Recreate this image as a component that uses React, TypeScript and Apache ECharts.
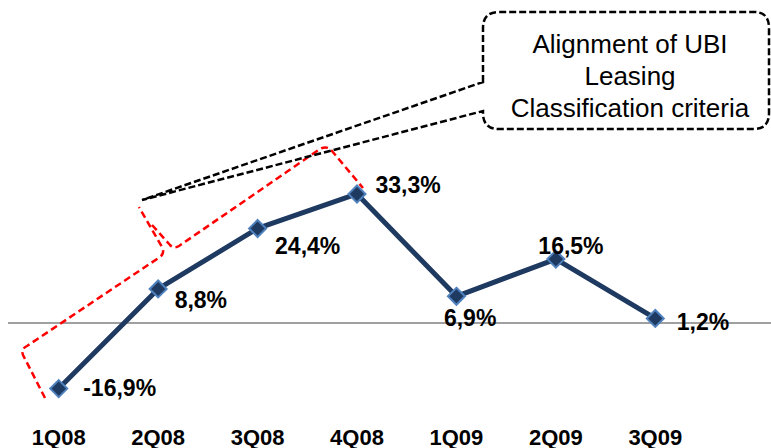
import React, { useEffect, useRef } from "react";
import * as echarts from "echarts";

const categories = ["1Q08", "2Q08", "3Q08", "4Q08", "1Q09", "2Q09", "3Q09"];
const values = [-16.9, 8.8, 24.4, 33.3, 6.9, 16.5, 1.2];
const calloutLines = ["Alignment of UBI", "Leasing", "Classification criteria"];

const FONT = "'Liberation Sans', Arial, Helvetica, sans-serif";

const CALLOUT_D =
  "M483 82 L483 28 Q483 12 499 12 L754 12 Q769 12 769 28 L769 113 Q769 129 754 129 L499 129 Q483 129 483 113 L483 111 L142 200 Z";
const RED_A_D = "M45 398 L23 355 Q21 349 27 346 L160 257 Q165 253 162 247 L139 207";
const RED_B_D = "M152 225 L170 245 Q174 249 179 246 L320 149 Q327 145 332 151 L363 188";

let registered = false;
function registerShapes() {
  if (registered) return;
  registered = true;
  echarts.graphic.registerShape("calloutShape", echarts.graphic.extendPath(CALLOUT_D, {}) as any);
  echarts.graphic.registerShape("redA", echarts.graphic.extendPath(RED_A_D, {}) as any);
  echarts.graphic.registerShape("redB", echarts.graphic.extendPath(RED_B_D, {}) as any);
}

export default function App() {
  const ref = useRef<HTMLDivElement>(null);

  useEffect(() => {
    if (!ref.current) return;
    registerShapes();
    const chart = echarts.init(ref.current, undefined, { renderer: "svg" });

    const labelOffsets = [
      [15, -1],
      [7, 11],
      [8, 18],
      [9, -9],
      [-22, 22],
      [-27, -13],
      [12, 4],
    ];

    chart.setOption({
      animation: false,
      grid: { left: 9, right: 66, top: 168, bottom: 28, containLabel: false },
      xAxis: {
        type: "category",
        data: categories,
        boundaryGap: true,
        axisLine: { show: false },
        axisTick: { show: false },
        splitLine: { show: false },
        axisLabel: {
          interval: 0,
          margin: 6,
          fontSize: 22,
          fontWeight: "bold",
          color: "#000",
          fontFamily: FONT,
        },
      },
      yAxis: {
        type: "value",
        min: -25,
        max: 40,
        show: false,
        splitLine: { show: false },
      },
      series: [
        {
          type: "line",
          z: 5,
          data: values.map((v, i) => ({
            value: v,
            label: { offset: labelOffsets[i] },
          })),
          lineStyle: { color: "#1F3A60", width: 5 },
          symbol: "diamond",
          symbolSize: 17,
          itemStyle: { color: "#1F3A60", borderColor: "#4F81BD", borderWidth: 2 },
          label: {
            show: true,
            position: "right",
            distance: 0,
            formatter: (p: any) => String(p.value).replace(".", ",") + "%",
            fontSize: 23,
            fontWeight: "bold",
            color: "#000",
            fontFamily: FONT,
          },
        },
      ],
    });

    const y0 = chart.convertToPixel({ yAxisIndex: 0 }, 0) as number;

    chart.setOption({
      graphic: [
        {
          type: "line",
          z: 1,
          shape: { x1: 8, y1: y0, x2: 771, y2: y0 },
          style: { stroke: "#808080", lineWidth: 1.5 },
        },
        {
          type: "redA",
          z: 10,
          x: 0,
          y: 0,
          style: { fill: "none", stroke: "#FF0000", lineWidth: 2.5, lineDash: [7, 4] },
        },
        {
          type: "redB",
          z: 10,
          x: 0,
          y: 0,
          style: { fill: "none", stroke: "#FF0000", lineWidth: 2.5, lineDash: [7, 4] },
        },
        {
          type: "calloutShape",
          z: 10,
          x: 0,
          y: 0,
          style: { fill: "none", stroke: "#000", lineWidth: 2.5, lineDash: [7, 3] },
        },
        {
          type: "text",
          z: 11,
          x: 630,
          y: 76,
          style: {
            text: calloutLines.join("\n"),
            fontSize: 26,
            lineHeight: 32,
            fontFamily: FONT,
            fill: "#000",
            align: "center",
            verticalAlign: "middle",
          },
        },
      ],
    });

    return () => chart.dispose();
  }, []);

  return (
    <div
      ref={ref}
      style={{ position: "fixed", left: 0, top: 0, width: 771, height: 448, background: "#fff" }}
    />
  );
}
